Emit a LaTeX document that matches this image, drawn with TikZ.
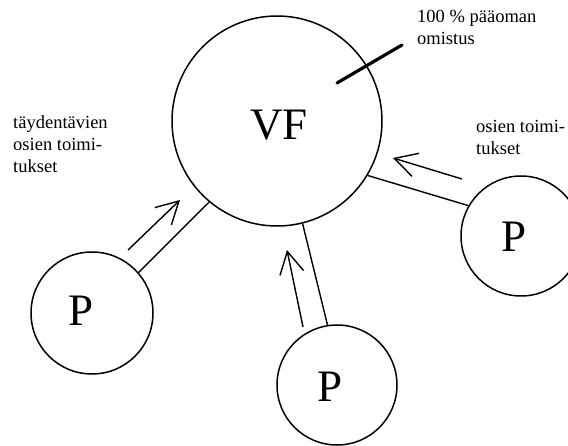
\documentclass[tikz,border=0pt]{standalone}
\usepackage{fontspec}
\setmainfont{Liberation Serif}
\usetikzlibrary{arrows.meta}
\begin{document}
\begin{tikzpicture}[x=1pt,y=1pt,
  firm/.style={circle, draw, line width=1.5pt, inner sep=0pt},
  bigfirm/.style={firm, minimum size=210pt},
  smallfirm/.style={firm, minimum size=120pt},
  letter/.style={font=\fontsize{45}{45}\selectfont, inner sep=0pt},
  note/.style={font=\fontsize{18.5}{22}\selectfont, align=left, anchor=base west, inner sep=0pt},
  link/.style={line width=1.4pt},
  flow/.style={line width=1.4pt, -{Straight Barb[length=22pt,width=24pt,line width=1.4pt]}},
  own/.style={line width=3.2pt, line cap=round}]
\clip (0,0) rectangle (568,445);

% firms
\node[bigfirm] (vf) at (277,324) {};
\node[letter] (vftext) at (279,320) {VF};
\node[smallfirm, minimum size=122pt] (pl) at (92,132) {};
\node[smallfirm] (pb) at (337,60) {};
\node[smallfirm] (pr) at (521,209) {};
\node[letter] (pltext) at (81,134) {P};
\node[letter] (pbtext) at (330,58) {P};
\node[letter] (prtext) at (514,208) {P};

% supplier links
\draw[link] (pl.41) -- (vf.230);
\draw[link] (pb.99) -- (vf.284);
\draw[link] (pr.150) -- (vf.329);

% delivery arrows
\coordinate (la) at (128,195); \coordinate (lb) at (180,245);
\coordinate (ba) at (303,118); \coordinate (bb) at (287,195);
\coordinate (ra) at (462,266); \coordinate (rb) at (393,287);
\draw[flow] (la) -- (lb);
\draw[flow] (ba) -- (bb);
\draw[flow] (ra) -- (rb);

% ownership mark
\coordinate (oa) at (337,362); \coordinate (ob) at (402,400);
\draw[own] (oa) -- (ob);

% labels (anchored at the baseline of the last line)
\node[note] (owntext) at (417,400) {100 \% pääoman\\omistus};
\node[note] (lefttext) at (13,272) {täydentävien\\osien toimi-\\tukset};
\node[note] (righttext) at (476,290) {osien toimi-\\tukset};
\end{tikzpicture}
\end{document}
